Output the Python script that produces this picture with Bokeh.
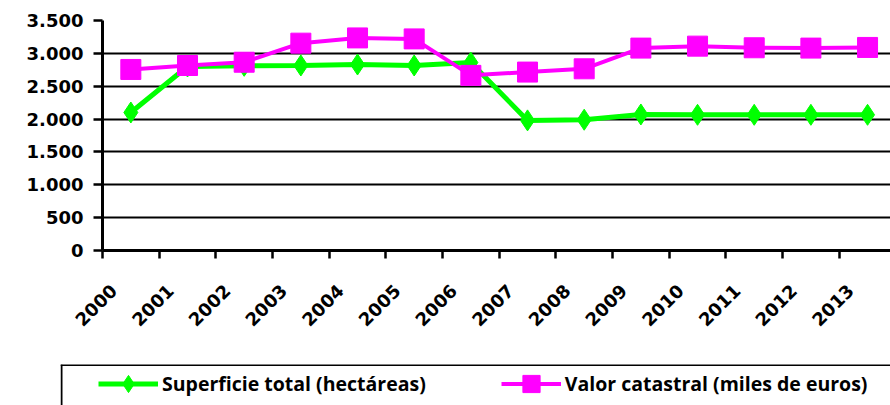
import numpy as np
from bokeh.plotting import figure
from bokeh.models import Range1d, FixedTicker, Legend, LegendItem, Grid, Span
from bokeh.embed import file_html
from bokeh.resources import INLINE

years = ["2000", "2001", "2002", "2003", "2004", "2005", "2006",
         "2007", "2008", "2009", "2010", "2011", "2012", "2013"]
superficie = [2100, 2800, 2810, 2815, 2830, 2815, 2860,
              1980, 1990, 2070, 2065, 2065, 2065, 2065]
valor = [2755, 2815, 2865, 3155, 3235, 3220, 2665,
         2715, 2765, 3080, 3110, 3085, 3080, 3090]
y_ticks = [0, 500, 1000, 1500, 2000, 2500, 3000, 3500]
y_tick_labels = ["0", "500", "1.000", "1.500", "2.000", "2.500", "3.000", "3.500"]
label_sup = "Superficie total (hectáreas)"
label_val = "Valor catastral (miles de euros)"

GREEN = "#00FF00"
PINK = "#FF00FF"
NUM_FONT = "DejaVu Sans"
OFFSET = 0.30   # points sit to the right of where the rotated labels end

idx = list(range(len(years)))
x = [i + OFFSET for i in idx]

p = figure(width=890, height=360, output_backend="svg", toolbar_location=None,
           x_range=Range1d(OFFSET - 0.5, OFFSET + 13.405), y_range=Range1d(0, 3500),
           min_border_left=102, min_border_right=0, min_border_top=20,
           min_border_bottom=110)
p.outline_line_color = None

# grids
p.xgrid.visible = False
p.ygrid.ticker = FixedTicker(ticks=y_ticks[1:-1])
p.ygrid.grid_line_color = "black"
p.ygrid.grid_line_width = 2
top_grid = Grid(dimension=1, ticker=FixedTicker(ticks=y_ticks[-1:]),
                grid_line_color="#8c8c8c", grid_line_width=3)
p.add_layout(top_grid)

# axes
for ax in (p.xaxis[0], p.yaxis[0]):
    ax.axis_line_color = "black"
    ax.axis_line_width = 3
    ax.major_label_text_font = NUM_FONT
    ax.major_label_text_font_style = "bold"
    ax.major_label_text_font_size = "18px"
    ax.major_label_text_color = "black"

p.yaxis.ticker = FixedTicker(ticks=y_ticks)
p.yaxis.major_label_overrides = dict(zip(y_ticks, y_tick_labels))
p.yaxis.major_tick_out = 9
p.yaxis.major_tick_in = 0
p.yaxis.major_tick_line_width = 2.5
p.yaxis.major_tick_line_color = "black"
p.yaxis.minor_tick_line_color = None
p.yaxis.major_label_standoff = 10

bounds = [xi - 0.5 for xi in x] + [x[-1] + 0.5]
p.xaxis.ticker = FixedTicker(ticks=idx, minor_ticks=bounds)
p.xaxis.major_label_overrides = dict(zip(idx, years))
p.xaxis.major_tick_line_color = None
p.xaxis.major_tick_out = 0
p.xaxis.major_tick_in = 0
p.xaxis.minor_tick_out = 8
p.xaxis.minor_tick_in = 0
p.xaxis.minor_tick_line_width = 2.5
p.xaxis.minor_tick_line_color = "black"
p.xaxis.major_label_orientation = np.pi / 4
p.xaxis.major_label_standoff = 29

# series
p.line(x, superficie, line_color=GREEN, line_width=5)
p.scatter(x, superficie, marker="diamond", size=21, fill_color=GREEN, line_color=GREEN)
p.line(x, valor, line_color=PINK, line_width=4)
p.scatter(x, valor, marker="square", size=20, fill_color=PINK, line_color=PINK)

# legend strip (separate root so the box can run off the page edge)
q = figure(width=890, height=45, output_backend="svg", toolbar_location=None,
           x_range=Range1d(0, 830), y_range=Range1d(0, 41),
           x_axis_type=None, y_axis_type=None,
           min_border_left=60, min_border_right=0, min_border_top=4,
           min_border_bottom=0)
q.outline_line_color = None
q.grid.visible = False
q1 = q.line(x, superficie, line_color=GREEN, line_width=5)
q2 = q.scatter(x, superficie, marker="diamond", size=21, fill_color=GREEN, line_color=GREEN)
q3 = q.line(x, valor, line_color=PINK, line_width=4)
q4 = q.scatter(x, valor, marker="square", size=20, fill_color=PINK, line_color=PINK)

legend = Legend(items=[LegendItem(label=label_sup, renderers=[q1, q2]),
                       LegendItem(label=label_val, renderers=[q3, q4])],
                orientation="horizontal", location=(38, 0.5),
                glyph_width=60, glyph_height=43, label_standoff=4, spacing=75,
                padding=0, margin=0, border_line_color=None,
                background_fill_alpha=0,
                label_text_font="Open Sans", label_text_font_style="bold",
                label_text_font_size="19.5px", label_text_color="black")
q.add_layout(legend)
q.add_layout(Span(location=40.5, dimension="width", line_color="black", line_width=2))
q.add_layout(Span(location=1, dimension="height", line_color="black", line_width=2))

open("out.html", "w").write(file_html([p, q], INLINE))
